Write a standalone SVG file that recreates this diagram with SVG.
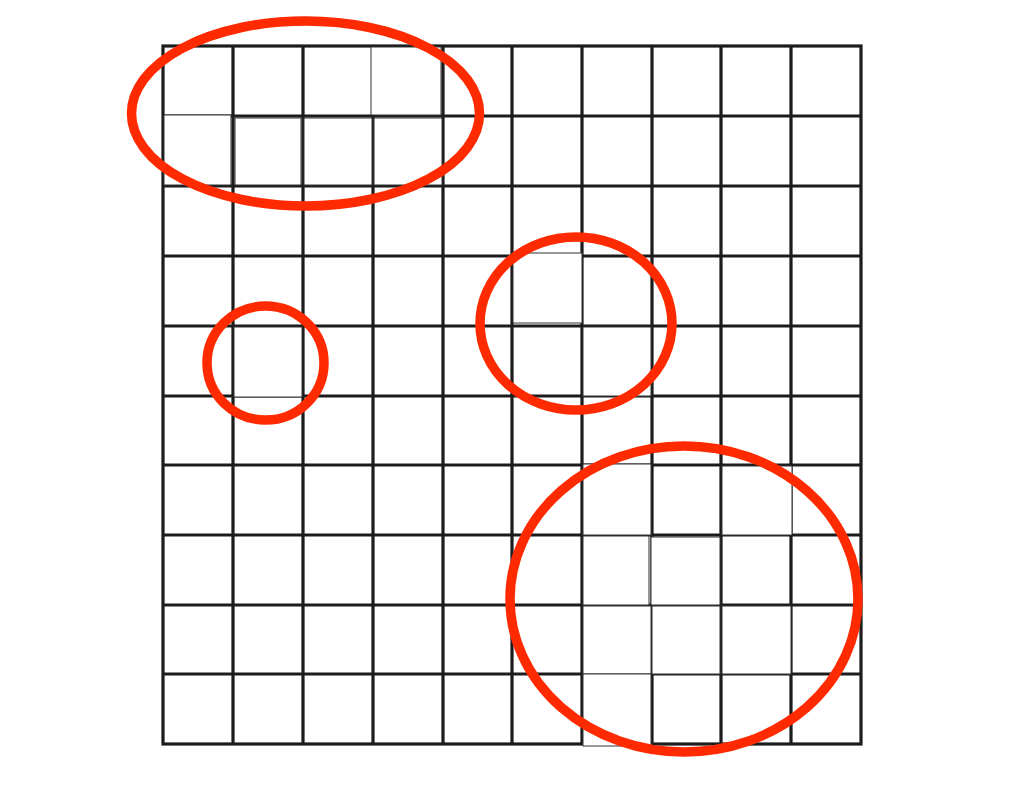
<svg xmlns="http://www.w3.org/2000/svg" width="1024" height="791" viewBox="0 0 1024 791">
<style>
.g{stroke:#1c1c1c;stroke-width:3.2;fill:none}
.p{fill:#fff;stroke:#333;stroke-width:1}
.r{fill:none;stroke:#ff2a00;stroke-width:9.5}
</style>
<rect width="1024" height="791" fill="#fff"/>
<g id="grid" class="g">
<rect x="163" y="46" width="698" height="698"/>
<path d="M233 46V744M303 46V744M373 46V744M443 46V744M512 46V744M582 46V744M652 46V744M721 46V744M791 46V744"/>
<path d="M163 116H861M163 186H861M163 256H861M163 326H861M163 396H861M163 465H861M163 535H861M163 605H861M163 674H861"/>
</g>
<g id="patches">
<rect class="p" x="371" y="47" width="70" height="68"/>
<rect class="p" x="164" y="115" width="67" height="70"/>
<rect class="p" x="235" y="118" width="66" height="67"/>
<rect class="p" x="304" y="118" width="68" height="67"/>
<rect class="p" x="374" y="118" width="68" height="67"/>
<rect class="p" x="513" y="253" width="69" height="70"/>
<rect class="p" x="583" y="327" width="68" height="69"/>
<rect class="p" x="234" y="327" width="68" height="70"/>
<rect class="p" x="583" y="464" width="68" height="71"/>
<rect class="p" x="722" y="466" width="70" height="69"/>
<rect class="p" x="583" y="536" width="66" height="69"/>
<rect class="p" x="651" y="537" width="69" height="68"/>
<rect class="p" x="583" y="606" width="68" height="68"/>
<rect class="p" x="652" y="606" width="68" height="68"/>
<rect class="p" x="722" y="606" width="69" height="68"/>
<rect class="p" x="583" y="674" width="68" height="72"/>
</g>
<g id="highlights">
<ellipse id="e1" class="r" cx="305.5" cy="113.5" rx="174" ry="92.5"/>
<ellipse id="e2" class="r" cx="265.5" cy="363" rx="58.5" ry="57"/>
<ellipse id="e3" class="r" cx="576" cy="323.5" rx="96" ry="86.5"/>
<ellipse id="e4" class="r" cx="684" cy="599" rx="174" ry="153"/>
</g>
</svg>
